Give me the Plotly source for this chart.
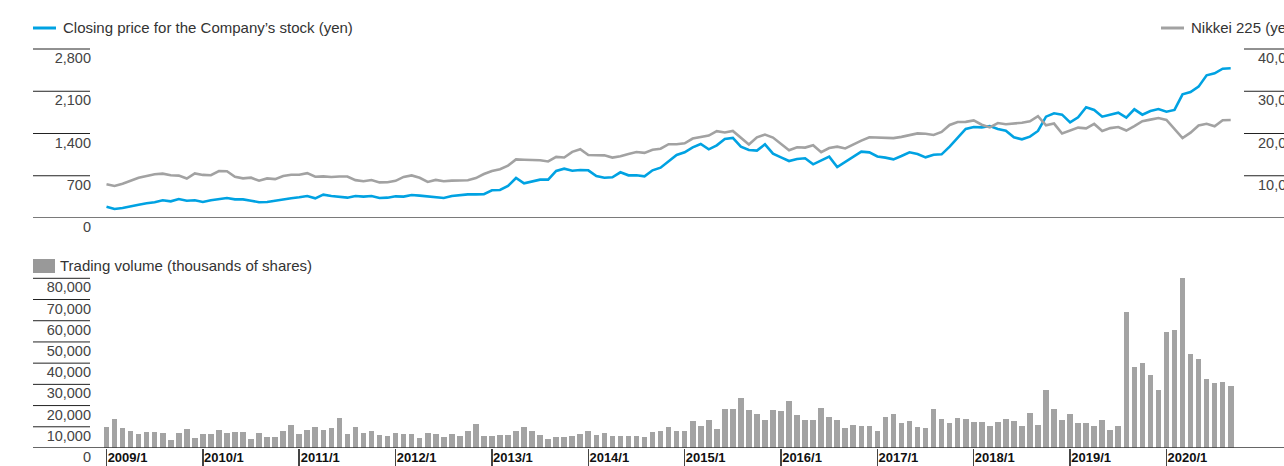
import plotly.graph_objects as go

# ---------------- data ----------------
years = list(range(2009, 2021))
tick_labels = [f"{y}/1" for y in years]

# Closing price for the Company's stock (yen), monthly 2009/1 - 2020/9
price = [188, 149, 166, 199, 221, 243, 260, 293, 276, 315, 287, 293,
         265, 293, 309, 331, 309, 309, 287, 260, 265, 287, 315, 326,
         343, 365, 326, 387, 365, 354, 337, 365, 354, 365, 331, 337,
         359, 354, 381, 370, 359, 343, 331, 365, 381, 392, 392, 395,
         460, 464, 530, 663, 574, 602, 635, 635, 779, 817, 784, 795,
         790, 696, 668, 674, 757, 707, 707, 690, 790, 834, 933, 1044,
         1088, 1171, 1226, 1138, 1204, 1309, 1326, 1182, 1127, 1116, 1221, 1066,
         1005, 944, 978, 989, 889, 950, 1016, 845, 933, 1016, 1099, 1088,
         1020, 1000, 972, 1027, 1088, 1060, 1005, 1049, 1055, 1182, 1337, 1475,
         1508, 1502, 1524, 1475, 1447, 1337, 1304, 1348, 1442, 1679, 1734, 1712,
         1585, 1668, 1834, 1790, 1679, 1712, 1745, 1663, 1801, 1712, 1773, 1806,
         1762, 1790, 2049, 2088, 2176, 2364, 2397, 2474, 2480]

# Nikkei 225 (yen), monthly
nikkei = [7990, 7570, 8110, 8830, 9520, 9960, 10360, 10490, 10130, 10030, 9350, 10550,
          10200, 10130, 11090, 11060, 9770, 9380, 9540, 8820, 9370, 9200, 9940, 10230,
          10240, 10620, 9760, 9850, 9690, 9820, 9830, 8960, 8700, 8990, 8430, 8460,
          8800, 9720, 10080, 9520, 8540, 9010, 8700, 8840, 8870, 8930, 9450, 10400,
          11140, 11560, 12400, 13860, 13770, 13680, 13670, 13390, 14460, 14330, 15660, 16290,
          14910, 14840, 14830, 14300, 14630, 15160, 15620, 15420, 16170, 16410, 17460, 17450,
          17670, 18800, 19210, 19520, 20560, 20240, 20590, 18890, 17390, 19080, 19750, 19030,
          17520, 16030, 16760, 16670, 17230, 15580, 16570, 16890, 16450, 17430, 18310, 19110,
          19040, 19120, 18910, 19200, 19650, 20030, 19930, 19650, 20360, 22010, 22720, 22760,
          23100, 22070, 21450, 22470, 22200, 22300, 22550, 22870, 24120, 21920, 22350, 20010,
          20770, 21390, 21210, 22260, 20600, 21280, 21520, 20700, 21760, 22930, 23290, 23660,
          23210, 21140, 18920, 20190, 21880, 22290, 21710, 23140, 23190]

# Trading volume (thousands of shares), monthly
volume = [9900, 13500, 9300, 8000, 6800, 7500, 7500, 7100, 3800, 7100, 8800, 4700,
          6400, 6800, 8300, 7200, 7500, 7500, 4200, 7100, 5200, 5200, 8000, 10800,
          6800, 8300, 9900, 8500, 9400, 14200, 6800, 9900, 7200, 8000, 6300, 5700,
          7100, 6800, 6800, 4800, 7100, 6700, 5200, 6700, 5700, 8000, 11300, 5700,
          5700, 6100, 6100, 8000, 9900, 8000, 6100, 4200, 5200, 5200, 5700, 6600,
          8000, 6100, 7100, 5700, 5700, 5700, 5700, 5200, 7500, 8000, 9900, 8000,
          8000, 12700, 10400, 13200, 9000, 18400, 18400, 23600, 17900, 16000, 13200, 17900,
          17500, 22200, 15600, 13200, 13200, 18900, 14600, 13300, 9300, 10800, 10400, 10400,
          7900, 14500, 15900, 11600, 12600, 9900, 9300, 18200, 13500, 11600, 14000, 13500,
          12100, 12100, 10200, 12100, 13500, 12600, 10200, 16300, 10800, 27400, 18200, 13100,
          15900, 11600, 11600, 10200, 13100, 8300, 10200, 64000, 38100, 39900, 34300, 27200,
          54600, 55500, 80000, 44200, 41800, 32400, 30500, 31000, 29100]

price_ticks = [0, 700, 1400, 2100, 2800]
nikkei_ticks = [10000, 20000, 30000, 40000]
volume_ticks = [0, 10000, 20000, 30000, 40000, 50000, 60000, 70000, 80000]

n = len(price)
x = list(range(n))
year_tickvals = [12 * k for k in range(len(years))]

# ---------------- geometry ----------------
FW, FH = 1284, 466
L, R = 92, 27
PW = FW - L - R
PX0, PITCH = 106.5, 8.03
x0 = -(PX0 - L) / PITCH
x1 = x0 + PW / PITCH


def xp(px):
    return (px - L) / PW


def yp(py):
    return 1 - py / FH


TOP_BASE, TOP_LINE, TOP_EDGE = 218, 49, 35
top_max = price_ticks[-1] * (TOP_BASE - TOP_EDGE) / (TOP_BASE - TOP_LINE)
nik_max = top_max * nikkei_ticks[-1] / price_ticks[-1]
BOT_BASE, BOT_LINE, BOT_EDGE = 448, 278.3, 270
bot_max = volume_ticks[-1] * (BOT_BASE - BOT_EDGE) / (BOT_BASE - BOT_LINE)

BLUE = "#00a2e2"
GREY_LINE = "#a2a2a2"
BAR = "#a3a3a3"
FONT = "Liberation Sans, Arial, sans-serif"

fig = go.Figure()
fig.add_trace(go.Scatter(x=x, y=nikkei, xaxis="x", yaxis="y2", mode="lines",
                         line=dict(color=GREY_LINE, width=2.6), name="Nikkei 225 (yen)"))
fig.add_trace(go.Scatter(x=x, y=price, xaxis="x", yaxis="y", mode="lines",
                         line=dict(color=BLUE, width=2.6),
                         name="Closing price for the Company’s stock (yen)"))
fig.add_trace(go.Bar(x=x, y=volume, xaxis="x2", yaxis="y3", width=0.7,
                     marker=dict(color=BAR, line=dict(width=0)),
                     name="Trading volume (thousands of shares)"))

tickfont = dict(family=FONT, size=14.5, color="#444")
common_y = dict(showgrid=False, zeroline=False, showline=False, ticks="",
                tickfont=tickfont, ticklabelshift=9, automargin=False, fixedrange=True)

fig.update_layout(
    template="none",
    width=FW, height=FH,
    margin=dict(l=L, r=R, t=0, b=0, pad=0),
    paper_bgcolor="white", plot_bgcolor="rgba(0,0,0,0)",
    showlegend=False,
    bargap=0,
    font=dict(family=FONT, color="#333"),
    xaxis=dict(domain=[0, 1], range=[x0, x1], anchor="y", visible=False),
    xaxis2=dict(domain=[0, 1], range=[x0, x1], anchor="y3", showgrid=False, zeroline=False,
                showline=False, ticks="outside", ticklen=18, tickwidth=1.5, tickcolor="#444",
                tickvals=year_tickvals, ticktext=tick_labels,
                tickfont=dict(family=FONT, size=13, color="#111", weight="bold"),
                ticklabelshift=21, ticklabelstandoff=-21, automargin=False),
    yaxis=dict(domain=[yp(TOP_BASE), yp(TOP_EDGE)], range=[0, top_max], anchor="x",
               tickvals=price_ticks, ticktext=[f"{v:,}" for v in price_ticks], **common_y),
    yaxis2=dict(overlaying="y", side="right", range=[0, nik_max], anchor="x",
                tickvals=nikkei_ticks, ticktext=[f"{v:,}" for v in nikkei_ticks], **common_y),
    yaxis3=dict(domain=[yp(BOT_BASE), yp(BOT_EDGE)], range=[0, bot_max], anchor="x2",
                tickvals=volume_ticks, ticktext=[f"{v:,}" for v in volume_ticks], **common_y),
)

shapes = []
# baselines
shapes.append(dict(type="line", xref="paper", yref="y", x0=xp(33), x1=xp(FW), y0=0, y1=0,
                   line=dict(color="#7a7a7a", width=2), layer="above"))
shapes.append(dict(type="line", xref="paper", yref="y3", x0=xp(33), x1=xp(FW), y0=0, y1=0,
                   line=dict(color="#333", width=1.5), layer="above"))
# short tick rules above each label
for v in price_ticks[1:]:
    shapes.append(dict(type="line", xref="paper", yref="y", x0=xp(33), x1=xp(90), y0=v, y1=v,
                       line=dict(color="#222", width=1)))
for v in nikkei_ticks:
    shapes.append(dict(type="line", xref="paper", yref="y2", x0=xp(1244), x1=xp(FW), y0=v, y1=v,
                       line=dict(color="#222", width=1)))
for v in volume_ticks[1:]:
    shapes.append(dict(type="line", xref="paper", yref="y3", x0=xp(33), x1=xp(90), y0=v, y1=v,
                       line=dict(color="#222", width=1)))
# legend keys
shapes.append(dict(type="line", xref="paper", yref="paper", x0=xp(33), x1=xp(56),
                   y0=yp(28), y1=yp(28), line=dict(color=BLUE, width=3)))
shapes.append(dict(type="line", xref="paper", yref="paper", x0=xp(1161), x1=xp(1184),
                   y0=yp(28), y1=yp(28), line=dict(color=GREY_LINE, width=3)))
shapes.append(dict(type="rect", xref="paper", yref="paper", x0=xp(33), x1=xp(55),
                   y0=yp(273), y1=yp(259), fillcolor="#999", line=dict(width=0)))
fig.update_layout(shapes=shapes)

legend_font = dict(family=FONT, size=15, color="#333")
fig.add_annotation(xref="paper", yref="paper", x=xp(61), y=yp(28), xanchor="left", yanchor="middle",
                   text="Closing price for the Company’s stock (yen)", showarrow=False, font=legend_font)
fig.add_annotation(xref="paper", yref="paper", x=xp(1189), y=yp(28), xanchor="left", yanchor="middle",
                   text="Nikkei 225 (yen)", showarrow=False, font=legend_font)
fig.add_annotation(xref="paper", yref="paper", x=xp(58), y=yp(265), xanchor="left", yanchor="middle",
                   text="Trading volume (thousands of shares)", showarrow=False, font=legend_font)

fig.write_html("out.html", config={"displayModeBar": False, "staticPlot": True},
               post_script="document.body.style.margin='0';document.body.style.overflow='hidden';")
